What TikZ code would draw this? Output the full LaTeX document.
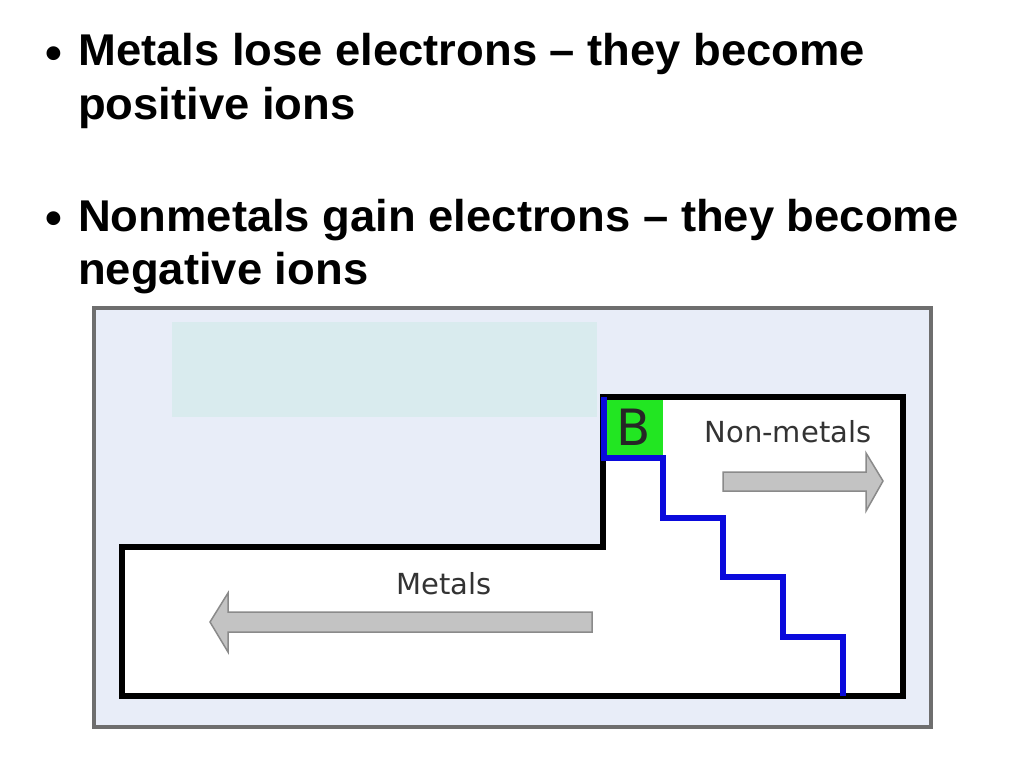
\documentclass[tikz,border=0pt]{standalone}
\usepackage{fontspec}
\setmainfont{Liberation Sans}
\newfontfamily\slidefont[FakeStretch=1.02]{Liberation Sans}
\newfontfamily\labelfont{DejaVu Sans}
\definecolor{framegray}{HTML}{6E6E6E}
\definecolor{panelblue}{HTML}{E8EDF8}
\definecolor{panelcyan}{HTML}{D9EBEE}
\definecolor{stairblue}{HTML}{0A0ADC}
\definecolor{boxgreen}{HTML}{22E622}
\definecolor{arrowfill}{HTML}{C3C3C3}
\definecolor{arrowedge}{HTML}{8A8A8A}
\definecolor{textgray}{HTML}{333333}

\begin{document}
\begin{tikzpicture}[x=1pt, y=-1pt,
  bullet/.style = {anchor=base, inner sep=0pt,
    font=\fontsize{48}{53}\selectfont\bfseries},
  textline/.style = {anchor=base west, inner sep=0pt,
    font=\slidefont\fontsize{44.5}{53}\selectfont\bfseries},
  tag/.style = {inner sep=0pt, text=textgray,
    font=\labelfont\fontsize{29}{33}\selectfont},
  outline/.style = {draw=black, line width=5.5pt, line join=miter},
  stairs/.style = {draw=stairblue, line width=6.5pt, line join=miter},
  grayarrow/.style = {draw=arrowedge, fill=arrowfill, line width=1.5pt}
  ]
  \useasboundingbox (0,0) rectangle (1024,768);

  % bullet text
  \node[bullet] (b1) at (54,69) {•};
  \node[textline] (t1a) at (78,66) {Metals lose electrons – they become};
  \node[textline] (t1b) at (78,119) {positive ions};
  \node[bullet] (b2) at (54,234) {•};
  \node[textline] (t2a) at (78,231) {Nonmetals gain electrons – they become};
  \node[textline] (t2b) at (78,284) {negative ions};

  % picture panel
  \draw[framegray, line width=3.5pt, fill=panelblue] (94,308) rectangle (931,727);
  \fill[panelcyan] (172,322) rectangle (597,417);

  % table outline
  \fill[white] (122,547) -- (603,547) -- (603,397) -- (903,397)
    -- (903,696) -- (122,696) -- cycle;
  \fill[boxgreen] (604,397) rectangle (663,458);
  \draw[outline] (122,547) -- (603,547) -- (603,397) -- (903,397)
    -- (903,696) -- (122,696) -- cycle;
  \draw[stairs] (604,397) -- (604,458) -- (663,458) -- (663,518)
    -- (723,518) -- (723,577) -- (783,577) -- (783,637)
    -- (843,637) -- (843,696);

  \node[inner sep=0pt, text=black!85,
    font=\labelfont\fontsize{50}{54}\selectfont] (boron) at (634,427) {B};

  % labels and arrows
  \node[tag] (nonmetals) at (788,432) {Non-metals};
  \draw[grayarrow] (723,472) -- (866,472) -- (866,453) -- (883,481)
    -- (866,511) -- (866,491) -- (723,491) -- cycle;

  \node[tag] (metals) at (444,584) {Metals};
  \draw[grayarrow] (592,612) -- (228,612) -- (228,593) -- (210,622)
    -- (228,652) -- (228,632) -- (592,632) -- cycle;
\end{tikzpicture}
\end{document}
